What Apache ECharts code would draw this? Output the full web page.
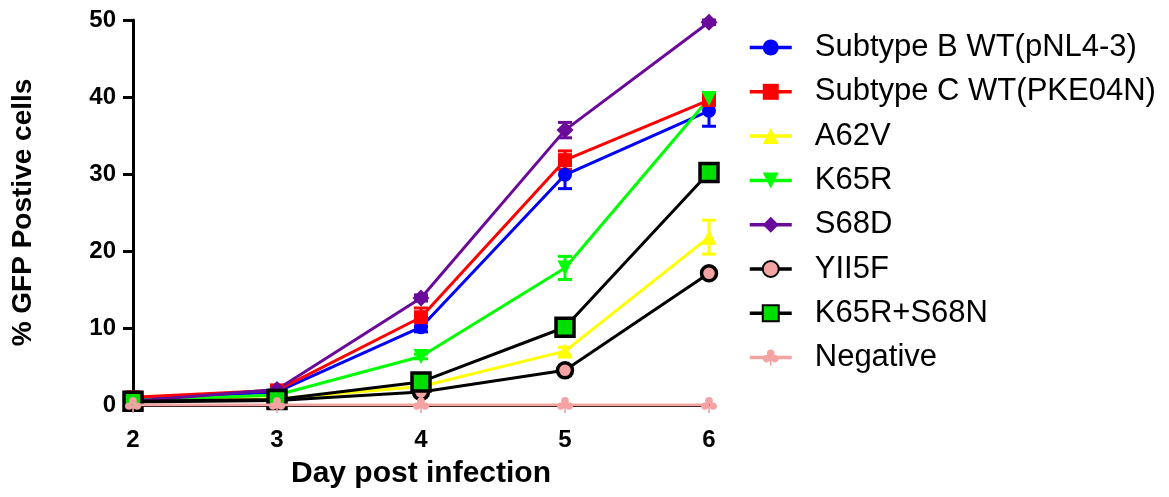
<!DOCTYPE html>
<html><head><meta charset="utf-8">
<script src="https://cdn.jsdelivr.net/npm/echarts@6/dist/echarts.min.js"></script>
<style>html,body{margin:0;padding:0;background:#fff}#c{width:1169px;height:497px}</style>
</head><body><div id="c"></div>
<script>
var days = [2, 3, 4, 5, 6];
var names = ['Subtype B WT(pNL4-3)', 'Subtype C WT(PKE04N)', 'A62V', 'K65R', 'S68D', 'YII5F', 'K65R+S68N', 'Negative'];
var subtypeB = [0.7, 1.7, 10.1, 29.9, 38.2];
var subtypeC = [1.0, 1.9, 11.4, 31.8, 39.6];
var a62v = [0.6, 0.8, 2.4, 7.0, 21.8];
var k65r = [0.6, 1.3, 6.3, 17.8, 39.8];
var s68d = [0.5, 2.0, 13.9, 35.7, 49.7];
var yii5f = [0.4, 0.6, 1.7, 4.5, 17.1];
var k65rs68n = [0.5, 0.7, 3.0, 10.1, 30.2];
var negative = [0, 0, 0, 0, 0];
var errB = [0.2, 0.2, 0.6, 1.8, 2.0];
var errC = [0.2, 0.2, 1.2, 1.2, 0.6];
var errA = [0.1, 0.1, 0.3, 0.5, 2.2];
var errK = [0.1, 0.2, 0.3, 1.5, 0.6];
var errS = [0.1, 0.3, 0.4, 1.0, 0.3];
var yTicks = [0, 10, 20, 30, 40, 50];

var valuesList = [subtypeB, subtypeC, a62v, k65r, s68d, yii5f, k65rs68n, negative];
var errList = [errB, errC, errA, errK, errS, null, null, null];
var lineColors = ['#0000ff', '#ff0000', '#ffff00', '#00ff00', '#6a0a9a', '#000000', '#000000', '#f4a3a3'];
var fillColors = ['#0000ff', '#ff0000', '#ffff00', '#00ff00', '#6a0a9a', '#f4a3a3', '#00dd00', '#f4a3a3'];
var borderColors = [null, null, null, null, null, '#000000', '#000000', null];

function circ(cx, cy, r) {
  var k = 0.5523 * r;
  return 'M' + (cx - r) + ',' + cy +
    'C' + (cx - r) + ',' + (cy - k) + ' ' + (cx - k) + ',' + (cy - r) + ' ' + cx + ',' + (cy - r) +
    'C' + (cx + k) + ',' + (cy - r) + ' ' + (cx + r) + ',' + (cy - k) + ' ' + (cx + r) + ',' + cy +
    'C' + (cx + r) + ',' + (cy + k) + ' ' + (cx + k) + ',' + (cy + r) + ' ' + cx + ',' + (cy + r) +
    'C' + (cx - k) + ',' + (cy + r) + ' ' + (cx - r) + ',' + (cy + k) + ' ' + (cx - r) + ',' + cy + 'Z';
}
var clover = 'path://' + circ(0, -3.5, 3.4) + circ(-3.6, 1.6, 3.4) + circ(3.6, 1.6, 3.4) + 'M-0.7,1L0.7,1L0.7,8L-0.7,8Z';
var symbols = ['circle', 'rect', 'triangle', 'triangle', 'diamond', 'circle', 'rect', clover];
var rotates = [0, 0, 0, 180, 0, 0, 0, 0];
var sizes = [14, 14, 15, 15, 17, 15, 18, 16];

function pairs(vals) { return days.map(function (d, i) { return [d, vals[i]]; }); }

var series = [];
errList.forEach(function (err, k) {
  if (!err) return;
  var vals = valuesList[k];
  series.push({
    type: 'custom', name: names[k] + ' err', silent: true, z: 2,
    data: days.map(function (d, i) { return [d, vals[i] - err[i], vals[i] + err[i]]; }),
    renderItem: function (params, api) {
      var x = api.value(0);
      var lo = api.coord([x, api.value(1)]);
      var hi = api.coord([x, api.value(2)]);
      var w = 7;
      var st = { stroke: lineColors[k], lineWidth: 3 };
      return { type: 'group', children: [
        { type: 'line', shape: { x1: lo[0], y1: lo[1], x2: hi[0], y2: hi[1] }, style: st },
        { type: 'line', shape: { x1: lo[0] - w, y1: lo[1], x2: lo[0] + w, y2: lo[1] }, style: st },
        { type: 'line', shape: { x1: hi[0] - w, y1: hi[1], x2: hi[0] + w, y2: hi[1] }, style: st }
      ]};
    }
  });
});
names.forEach(function (n, k) {
  var is = { color: fillColors[k] };
  if (borderColors[k]) { is.borderColor = borderColors[k]; is.borderWidth = 3.5; }
  series.push({
    type: 'line', name: n, data: pairs(valuesList[k]), z: 3 + (k === 7 ? 5 : 0),
    symbol: symbols[k], symbolSize: sizes[k], symbolRotate: rotates[k],
    showAllSymbol: true,
    lineStyle: { color: lineColors[k], width: 3 },
    itemStyle: is,
    emphasis: { disabled: true }
  });
});

var chart = echarts.init(document.getElementById('c'), null, { renderer: 'canvas' });
chart.setOption({
  animation: false,
  backgroundColor: '#fff',
  grid: { left: 133, right: 460, top: 20, bottom: 92, containLabel: false, outerBoundsMode: 'none' },
  xAxis: {
    type: 'value', min: days[0], max: days[days.length - 1], interval: 1,
    name: 'Day post infection', nameLocation: 'middle', nameGap: 54,
    nameTextStyle: { fontFamily: 'Liberation Sans', fontWeight: 'bold', fontSize: 30, color: '#000' },
    axisLine: { show: true, onZero: false, lineStyle: { color: '#000', width: 3 } },
    axisTick: { show: false },
    splitLine: { show: false },
    axisLabel: { fontFamily: 'Liberation Sans', fontWeight: 'bold', fontSize: 24, color: '#000', margin: 23 }
  },
  yAxis: {
    type: 'value', min: yTicks[0], max: yTicks[yTicks.length - 1], interval: 10,
    name: '% GFP Postive cells', nameLocation: 'middle', nameGap: 96, nameMoveOverlap: false,
    nameTextStyle: { fontFamily: 'Liberation Sans', fontWeight: 'bold', fontSize: 28, color: '#000' },
    axisLine: { show: true, lineStyle: { color: '#000', width: 3 } },
    axisTick: { show: true, length: 10, lineStyle: { color: '#000', width: 3 } },
    splitLine: { show: false },
    axisLabel: { fontFamily: 'Liberation Sans', fontWeight: 'bold', fontSize: 24, color: '#000', margin: 17 }
  },
  legend: {
    data: names, orient: 'vertical', left: 743, top: 27,
    itemWidth: 42, itemHeight: 20, itemGap: 13.3,
    lineStyle: { width: 3.5 },
    textStyle: { fontFamily: 'Liberation Sans', fontSize: 31, color: '#000', lineHeight: 30, padding: [0, 0, 0, 18] },
    selectedMode: false
  },
  series: series
});
</script></body></html>
